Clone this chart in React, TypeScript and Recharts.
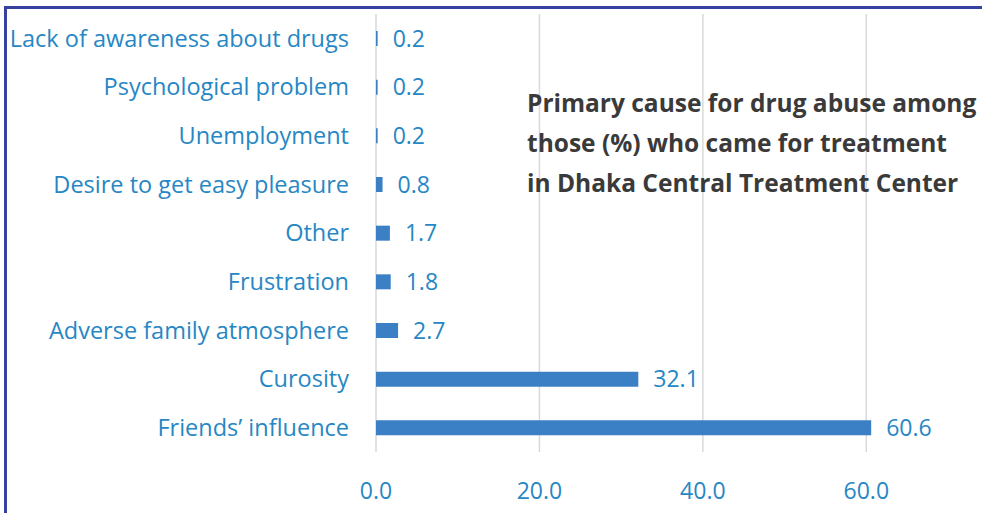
import React from "react";
import { BarChart, Bar, XAxis, YAxis, CartesianGrid, LabelList } from "recharts";

const categories = [
  "Lack of awareness about drugs",
  "Psychological problem",
  "Unemployment",
  "Desire to get easy pleasure",
  "Other",
  "Frustration",
  "Adverse family atmosphere",
  "Curosity",
  "Friends\u2019 influence",
];
const values = [0.2, 0.2, 0.2, 0.8, 1.7, 1.8, 2.7, 32.1, 60.6];
const xTicks = [0, 20, 40, 60];
const xMax = 70;
const titleLines = [
  "Primary cause for drug abuse among",
  "those (%) who came for treatment",
  "in Dhaka Central Treatment Center",
];

const data = categories.map((c, i) => ({ cause: c, value: values[i] }));

const FONT = "'Open Sans', sans-serif";
const TEXT_BLUE = "#2787c4";

export default function App() {
  return (
    <div style={{ position: "absolute", left: 0, top: 0, width: 982, height: 513, background: "#fff", fontFamily: FONT, overflow: "hidden" }}>
      <div
        style={{
          position: "absolute",
          left: 4,
          top: 6,
          width: 990,
          height: 520,
          borderTop: "3px solid #36429f",
          borderLeft: "3px solid #36429f",
          boxSizing: "border-box",
        }}
      />
      <BarChart
        width={982}
        height={513}
        data={data}
        layout="vertical"
        margin={{ top: 14, right: 34, bottom: 21, left: 0 }}
        barSize={15}
      >
        <CartesianGrid
          horizontal={false}
          vertical={true}
          stroke="#d9d9d9"
          strokeWidth={1.5}
          verticalCoordinatesGenerator={({ offset }: any) =>
            xTicks.map((t) => offset.left + (t / xMax) * offset.width)
          }
        />
        <XAxis
          type="number"
          domain={[0, xMax]}
          ticks={xTicks}
          allowDataOverflow
          axisLine={false}
          tickLine={false}
          tickSize={0}
          tickMargin={31}
          height={40}
          tickFormatter={(v: number) => v.toFixed(1)}
          tick={{ fill: TEXT_BLUE, fontSize: 23, fontFamily: FONT }}
        />
        <YAxis
          type="category"
          dataKey="cause"
          width={376}
          axisLine={false}
          tickLine={false}
          tickSize={0}
          tickMargin={27}
          interval={0}
          tick={{ fill: TEXT_BLUE, fontSize: 23.5, fontFamily: FONT }}
        />
        <Bar dataKey="value" fill="#3b7fc4" isAnimationActive={false}>
          <LabelList
            dataKey="value"
            position="right"
            offset={15}
            formatter={(v: number) => v.toFixed(1)}
            style={{ fill: TEXT_BLUE, fontSize: 23, fontFamily: FONT }}
          />
        </Bar>
      </BarChart>
      <div
        style={{
          position: "absolute",
          left: 527,
          top: 83,
          fontFamily: FONT,
          fontWeight: 700,
          fontSize: 24.5,
          lineHeight: "40px",
          color: "#3a3a3a",
          whiteSpace: "nowrap",
        }}
      >
        {titleLines.map((l) => (
          <div key={l}>{l}</div>
        ))}
      </div>
    </div>
  );
}
